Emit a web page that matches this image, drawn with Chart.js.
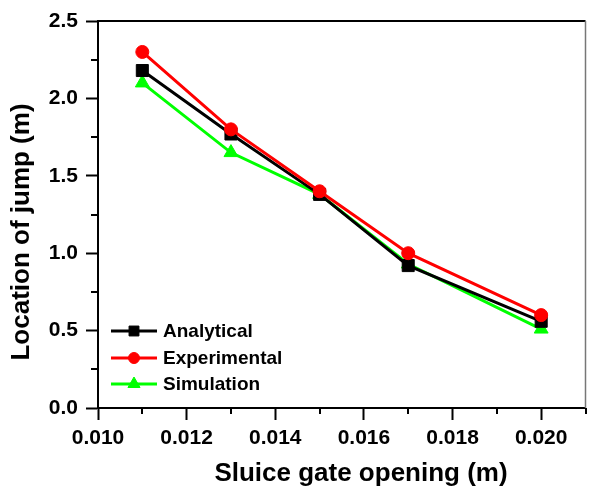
<!DOCTYPE html>
<html>
<head>
<meta charset="utf-8">
<script src="https://cdn.jsdelivr.net/npm/chart.js@4/dist/chart.umd.min.js"></script>
<style>
  body { margin: 0; background: #fff; }
  canvas { display: block; }
</style>
</head>
<body>
<canvas id="jump"></canvas>
<script>
// gate opening (m) and location of the hydraulic jump (m)
const gateOpening = [0.011, 0.013, 0.015, 0.017, 0.020]
const analytical = [2.18, 1.77, 1.38, 0.92, 0.56]
const experimental = [2.30, 1.80, 1.40, 1.00, 0.60]
const simulation = [2.10, 1.65, 1.38, 0.93, 0.51]

const seriesNames = ['Analytical', 'Experimental', 'Simulation']
const xTitle = 'Sluice gate opening (m)'
const yTitle = 'Location of jump (m)'
const yMinorTicks = [0.25, 0.75, 1.25, 1.75, 2.25]
const xMinorTicks = [0.011, 0.013, 0.015, 0.017, 0.019, 0.021]

const FONT = "'Liberation Sans', Arial, sans-serif"

const toPoints = ys => ys.map((y, i) => ({ x: gateOpening[i], y }))

function series(label, values, color, pointStyle, radius, order) {
    return {
        label,
        data: toPoints(values),
        borderColor: color,
        backgroundColor: color,
        borderWidth: 3,
        pointStyle,
        pointRadius: radius,
        pointBorderWidth: 1,
        pointBorderColor: color,
        pointBackgroundColor: color,
        order
    }
}

// minor ticks, the top/right frame, axis titles and the legend with line + marker
const frame = {
    id: 'frame',
    afterDraw(chart) {
        const ctx = chart.ctx
        const a = chart.chartArea
        const xs = chart.scales.x, ys = chart.scales.y
        ctx.save()
        ctx.strokeStyle = '#000'
        ctx.lineWidth = 2
        ctx.beginPath()
        ctx.moveTo(a.left, a.top)
        ctx.lineTo(a.right, a.top)
        for (const v of yMinorTicks) {
            const py = Math.round(ys.getPixelForValue(v))
            ctx.moveTo(a.left - 7, py)
            ctx.lineTo(a.left, py)
        }
        for (const v of xMinorTicks) {
            const px = Math.round(xs.getPixelForValue(v))
            ctx.moveTo(px, a.bottom)
            ctx.lineTo(px, a.bottom + 6)
        }
        ctx.stroke()

        ctx.strokeStyle = '#777'
        ctx.lineWidth = 1.5
        ctx.beginPath()
        ctx.moveTo(a.right, a.top)
        ctx.lineTo(a.right, a.bottom)
        ctx.stroke()

        // axis titles
        ctx.fillStyle = '#000'
        ctx.font = 'bold 26px ' + FONT
        ctx.textAlign = 'center'
        ctx.textBaseline = 'middle'
        ctx.fillText(xTitle, 361, 474)
        ctx.save()
        ctx.translate(22, 232)
        ctx.rotate(-Math.PI / 2)
        ctx.fillText(yTitle, 0, 0)
        ctx.restore()

        // legend
        const rows = [331, 358, 384]
        const sizes = [7, 5.5, 7]
        seriesNames.forEach((name, i) => {
            const ds = chart.data.datasets.find(d => d.label === name)
            const y = rows[i]
            ctx.strokeStyle = ds.borderColor
            ctx.lineWidth = 3
            ctx.beginPath()
            ctx.moveTo(111, y)
            ctx.lineTo(157, y)
            ctx.stroke()
            ctx.fillStyle = ds.borderColor
            ctx.strokeStyle = ds.borderColor
            ctx.lineWidth = 1
            Chart.helpers.drawPoint(ctx, { pointStyle: ds.pointStyle, radius: sizes[i], rotation: 0, borderWidth: 1 }, 134, y)
            ctx.fillStyle = '#000'
            ctx.font = 'bold 19px ' + FONT
            ctx.textBaseline = 'middle'
            ctx.textAlign = 'left'
            ctx.fillText(name, 163, y + 1)
        })
        ctx.restore()
    }
}

const ctx = document.getElementById('jump')
ctx.width = 595
ctx.height = 493

new Chart(ctx, {
    type: 'line',
    data: {
        datasets: [
            series('Analytical', analytical, '#000000', 'rect', 8.5, 1),
            series('Experimental', experimental, '#ff0000', 'circle', 6.5, 0),
            series('Simulation', simulation, '#00ff00', 'triangle', 8, 2)
        ]
    },
    options: {
        responsive: false,
        animation: false,
        layout: { padding: { top: 21, right: 2, left: 0, bottom: 0 } },
        plugins: {
            legend: { display: false },
            tooltip: { enabled: false }
        },
        scales: {
            x: {
                type: 'linear',
                min: 0.010,
                max: 0.021,
                afterFit: s => { s.height = 85 },
                border: { display: true, color: '#000', width: 2 },
                grid: { drawOnChartArea: false, tickLength: 12, tickWidth: 2, tickColor: '#000' },
                ticks: {
                    stepSize: 0.002,
                    includeBounds: false,
                    color: '#000',
                    padding: 6,
                    maxRotation: 0,
                    font: { family: FONT, size: 21, weight: 'bold' },
                    callback: v => v.toFixed(3)
                }
            },
            y: {
                min: 0,
                max: 2.5,
                afterFit: s => { s.width = 98 },
                border: { display: true, color: '#000', width: 2 },
                grid: { drawOnChartArea: false, tickLength: 12, tickWidth: 2, tickColor: '#000' },
                ticks: {
                    stepSize: 0.5,
                    color: '#000',
                    padding: 8,
                    font: { family: FONT, size: 21, weight: 'bold' },
                    callback: v => v.toFixed(1)
                }
            }
        }
    },
    plugins: [frame]
})
</script>
</body>
</html>
